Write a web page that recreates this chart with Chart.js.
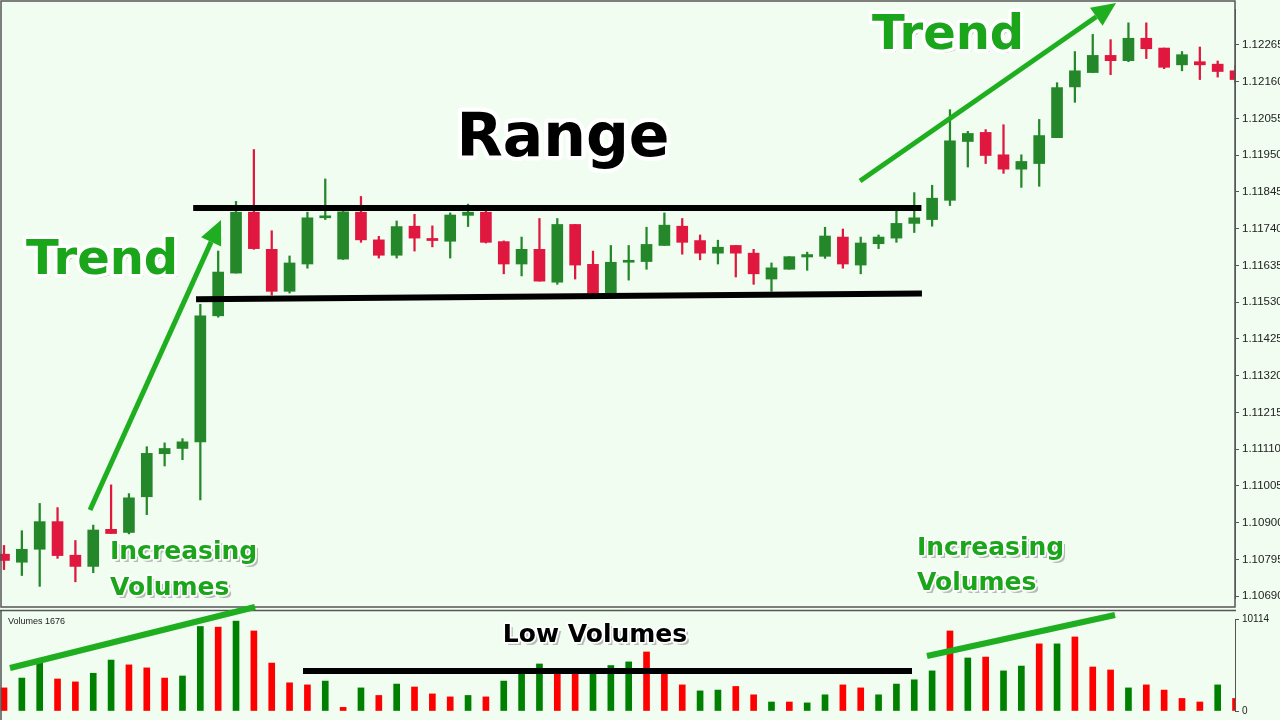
<!DOCTYPE html>
<html><head><meta charset="utf-8">
<script src="https://cdn.jsdelivr.net/npm/chart.js@4.4.1/dist/chart.umd.min.js"></script>
<style>
html,body{margin:0;padding:0;background:#f0fdf0;}
#wrap{position:relative;width:1280px;height:720px;overflow:hidden;background:#f0fdf0;}
#c1{position:absolute;left:0;top:0;}
#c2{position:absolute;left:0;top:610px;}
#ov{position:absolute;left:0;top:0;pointer-events:none;}
</style></head>
<body><div id="wrap">
<canvas id="c1" width="1280" height="608"></canvas>
<canvas id="c2" width="1280" height="110"></canvas>
<canvas id="ov" width="1280" height="720"></canvas>
</div>
<script>
const openP  = [1.10810,1.10787,1.10824,1.10903,1.10807,1.10775,1.10881,1.10872,1.10974,1.11097,1.11112,1.11131,1.11491,1.11613,1.11787,1.11681,1.11561,1.11639,1.11771,1.11653,1.11787,1.11708,1.11664,1.11747,1.11712,1.11704,1.11778,1.11787,1.11703,1.11639,1.11681,1.11587,1.11752,1.11638,1.11556,1.11644,1.11646,1.11692,1.11747,1.11706,1.11670,1.11692,1.11670,1.11596,1.11624,1.11659,1.11661,1.11716,1.11636,1.11697,1.11713,1.11755,1.11766,1.11821,1.11989,1.12015,1.11951,1.11910,1.11926,1.12000,1.12145,1.12186,1.12235,1.12220,1.12284,1.12256,1.12208,1.12217,1.12210,1.12191];
const closeP = [1.10792,1.10824,1.10903,1.10806,1.10775,1.10879,1.10869,1.10971,1.11098,1.11112,1.11131,1.11491,1.11616,1.11787,1.11683,1.11561,1.11642,1.11771,1.11775,1.11788,1.11708,1.11664,1.11746,1.11713,1.11706,1.11779,1.11787,1.11701,1.11639,1.11681,1.11590,1.11752,1.11636,1.11556,1.11644,1.11647,1.11695,1.11750,1.11701,1.11670,1.11687,1.11670,1.11611,1.11628,1.11660,1.11666,1.11719,1.11639,1.11699,1.11716,1.11755,1.11771,1.11827,1.11991,1.12012,1.11949,1.11910,1.11932,1.12006,1.12143,1.12191,1.12235,1.12220,1.12284,1.12254,1.12201,1.12237,1.12208,1.12189,1.12166];
const highP  = [1.10835,1.10877,1.10955,1.10943,1.10849,1.10893,1.11008,1.10983,1.11117,1.11128,1.11140,1.11524,1.11676,1.11818,1.11966,1.11734,1.11662,1.11787,1.11882,1.11802,1.11832,1.11718,1.11762,1.11781,1.11748,1.11785,1.11810,1.11791,1.11705,1.11716,1.11769,1.11769,1.11752,1.11676,1.11692,1.11692,1.11744,1.11785,1.11769,1.11722,1.11707,1.11692,1.11681,1.11642,1.11660,1.11673,1.11744,1.11739,1.11716,1.11722,1.11794,1.11843,1.11864,1.12080,1.12018,1.12023,1.12037,1.11951,1.12052,1.12157,1.12246,1.12295,1.12280,1.12328,1.12328,1.12256,1.12246,1.12259,1.12219,1.12206];
const lowP   = [1.10766,1.10749,1.10718,1.10798,1.10731,1.10757,1.10869,1.10868,1.10923,1.11062,1.11080,1.10965,1.11487,1.11613,1.11681,1.11550,1.11556,1.11627,1.11766,1.11652,1.11701,1.11656,1.11656,1.11676,1.11688,1.11656,1.11746,1.11699,1.11611,1.11605,1.11590,1.11581,1.11596,1.11552,1.11555,1.11593,1.11624,1.11692,1.11667,1.11651,1.11639,1.11602,1.11581,1.11561,1.11624,1.11621,1.11655,1.11627,1.11611,1.11683,1.11701,1.11729,1.11747,1.11806,1.11916,1.11926,1.11898,1.11858,1.11861,1.12000,1.12101,1.12186,1.12180,1.12217,1.12226,1.12197,1.12191,1.12166,1.12173,1.12157];
const volumes = [2540,3620,5240,3520,3200,4150,5600,5070,4740,3620,3850,9290,9220,9880,8800,5270,3100,2870,3290,400,2540,1710,2960,2640,1880,1550,1710,1550,3290,4280,5170,4280,4280,4280,5000,5400,6490,4280,2870,2210,2300,2700,1780,990,990,890,1780,2870,2540,1780,2960,3430,4410,8800,5830,5930,4410,4940,7380,7380,8140,4840,4510,2540,2870,2300,1380,990,2870,1380];
const volDir = "dggddggdddggdgddddgdgdgdddgdgggddgggdddggddgdggddggggdgdggdgdddgddddgd".split("");
const priceTicks = [1.10690,1.10795,1.10900,1.11005,1.11110,1.11215,1.11320,1.11425,1.11530,1.11635,1.11740,1.11845,1.11950,1.12055,1.12160,1.12265];
const volTicks = [0,10114];

const UP='#24882a', DN='#e0173f', VUP='#008000', VDN='#ff0000';
const idx = openP.map((_,i)=>i);
const candleCol = idx.map(i=>closeP[i]>=openP[i]?UP:DN);
const xMin=-0.224, xMax=68.97;
const tickFont={family:'Liberation Sans, Arial, sans-serif',size:11.5};

const c1 = new Chart(document.getElementById('c1'),{
  type:'bar',
  data:{datasets:[
    {data:idx.map(i=>({x:i,y:[lowP[i],highP[i]]})),backgroundColor:candleCol,barThickness:1.6,grouped:false,order:2},
    {data:idx.map(i=>({x:i,y:[openP[i],closeP[i]]})),backgroundColor:candleCol,barThickness:11,grouped:false,order:1,minBarLength:2}
  ]},
  options:{responsive:false,animation:false,events:[],
    layout:{padding:{left:0,right:0,top:0,bottom:2}},
    plugins:{legend:{display:false},tooltip:{enabled:false}},
    scales:{
      x:{type:'linear',min:xMin,max:xMax,offset:false,display:false,grid:{offset:false}},
      y:{position:'right',min:1.106845,max:1.12365,
        afterFit:s=>{s.width=45;},
        afterBuildTicks:s=>{s.ticks=priceTicks.map(v=>({value:v}));},
        ticks:{autoSkip:false,callback:v=>Number(v).toFixed(5),color:'#222',font:tickFont,padding:3},
        grid:{drawOnChartArea:false,tickLength:4,color:'#555'},
        border:{color:'#555'}}
    }}
});

const c2 = new Chart(document.getElementById('c2'),{
  type:'bar',
  data:{datasets:[
    {data:idx.map(i=>({x:i,y:volumes[i]})),backgroundColor:volDir.map(d=>d==='g'?VUP:VDN),barThickness:6}
  ]},
  options:{responsive:false,animation:false,events:[],
    layout:{padding:{left:0,right:0,top:4,bottom:4}},
    plugins:{legend:{display:false},tooltip:{enabled:false}},
    scales:{
      x:{type:'linear',min:xMin,max:xMax,offset:false,display:false,grid:{offset:false}},
      y:{position:'right',min:0,max:10114,
        afterFit:s=>{s.width=45;},
        afterBuildTicks:s=>{s.ticks=volTicks.map(v=>({value:v}));},
        ticks:{autoSkip:false,color:'#222',font:{family:'Liberation Sans, Arial, sans-serif',size:10},padding:3,
          callback:v=>String(v)},
        grid:{drawOnChartArea:false,tickLength:4,color:'#555'},
        border:{color:'#555'}}
    }}
});

const ctx=document.getElementById('ov').getContext('2d');
ctx.strokeStyle='#555';ctx.lineWidth=1.5;
ctx.strokeRect(1,1,1234,606);
ctx.beginPath();ctx.moveTo(0,610.5);ctx.lineTo(1236,610.5);ctx.stroke();
ctx.beginPath();ctx.moveTo(1,610);ctx.lineTo(1,720);ctx.stroke();
ctx.fillStyle='#222';ctx.font='9px Liberation Sans, Arial';ctx.fillText('Volumes 1676',8,624);

const xs=c1.scales.x, ys=c1.scales.y;
function segData(x1,p1,x2,p2,w,col){
  ctx.strokeStyle=col;ctx.lineWidth=w;ctx.lineCap='butt';
  ctx.beginPath();ctx.moveTo(xs.getPixelForValue(x1),ys.getPixelForValue(p1));
  ctx.lineTo(xs.getPixelForValue(x2),ys.getPixelForValue(p2));ctx.stroke();
}
segData(10.6,1.11799,51.4,1.11799,6,'#000');
segData(10.76,1.11538,51.43,1.11555,6,'#000');

function seg(x1,y1,x2,y2,w,col){ctx.strokeStyle=col;ctx.lineWidth=w;ctx.beginPath();ctx.moveTo(x1,y1);ctx.lineTo(x2,y2);ctx.stroke();}
function arrow(x1,y1,x2,y2){
  const a=Math.atan2(y2-y1,x2-x1),L=24,W=11;
  const bx=x2-L*Math.cos(a),by=y2-L*Math.sin(a);
  seg(x1,y1,bx,by,5,'#1fae1f');
  ctx.fillStyle='#1fae1f';ctx.beginPath();ctx.moveTo(x2,y2);
  ctx.lineTo(bx+W*Math.sin(a),by-W*Math.cos(a));ctx.lineTo(bx-W*Math.sin(a),by+W*Math.cos(a));ctx.closePath();ctx.fill();
}
arrow(90,510,221,220);
arrow(860,181,1116,3);
seg(10,668,255,607,6,'#1fae1f');
seg(927,656,1115,615,6,'#1fae1f');
seg(303,671,912,671,6,'#000');

function otext(t,x,y,size,fill,align){
  ctx.font='bold '+size+'px "DejaVu Sans", "Liberation Sans", Arial';
  ctx.textAlign=align||'left';ctx.textBaseline='middle';ctx.lineJoin='round';
  ctx.fillStyle='rgba(0,0,0,0.25)';ctx.fillText(t,x+3,y+3);
  ctx.strokeStyle='#fff';ctx.lineWidth=size/7;ctx.strokeText(t,x,y);
  ctx.fillStyle=fill;ctx.fillText(t,x,y);
}
otext('Trend',26,262,48,'#1ba51b');
otext('Trend',872,37,48,'#1ba51b');
otext('Range',563,140,60,'#000','center');
otext('Increasing',110,552,25,'#1ba51b');
otext('Volumes',110,588,25,'#1ba51b');
otext('Increasing',917,548,25,'#1ba51b');
otext('Volumes',917,583,25,'#1ba51b');
otext('Low Volumes',595,635,25,'#000','center');
</script></body></html>
